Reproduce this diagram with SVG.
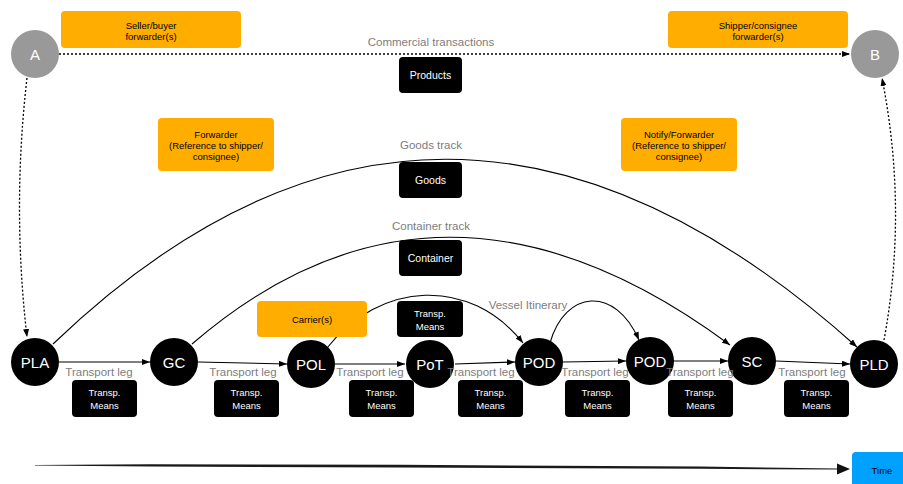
<svg xmlns="http://www.w3.org/2000/svg" width="903" height="484" viewBox="0 0 903 484">
<defs>
<marker id="arr" markerWidth="8" markerHeight="6" refX="8" refY="3" orient="auto" markerUnits="userSpaceOnUse"><path d="M0,0 L8,3 L0,6 z" fill="#000"/></marker>
<style>
text{font-family:"Liberation Sans",Arial,Helvetica,sans-serif}
.org{fill:#FFAE00}
.blk{fill:#000}
.node circle{fill:#000}
.node text{fill:#fff;font-size:15px;text-anchor:middle}
.ext circle{fill:#999}
.ext text{fill:#fff;font-size:15px;text-anchor:middle}
.lbl{fill:#7d7d7d;font-size:11.5px;text-anchor:middle}
.ot{fill:#000;font-size:9.5px;text-anchor:middle}
.bt{fill:#fff;font-size:10.5px;text-anchor:middle}
.tm{fill:#fff;font-size:9.5px;text-anchor:middle}
.ln{fill:none;stroke:#000;stroke-width:1.1}
.dot{fill:none;stroke:#000;stroke-width:1.3;stroke-dasharray:2 2}
</style>
</defs>
<rect width="903" height="484" fill="#fff"/>

<g id="connectors">
<path class="dot" d="M59,54 L850,54" marker-end="url(#arr)"/>
<path class="dot" d="M27,78 Q12,208 27,337" marker-end="url(#arr)"/>
<path class="dot" d="M884,340 Q908,210 882,78" marker-end="url(#arr)"/>
<path class="ln" d="M53,344 Q440,-27 857,347" marker-end="url(#arr)"/>
<path class="ln" d="M192,344 Q440,130 730,345" marker-end="url(#arr)"/>
<path class="ln" d="M327,348 C380,281 470,276 523,343" marker-end="url(#arr)"/>
<path class="ln" d="M550,343 C565,290 615,285 639,340" marker-end="url(#arr)"/>
<path class="ln" d="M59,362 L150,362" marker-end="url(#arr)"/>
<path class="ln" d="M198,362 L287,364" marker-end="url(#arr)"/>
<path class="ln" d="M335,364 L405,364" marker-end="url(#arr)"/>
<path class="ln" d="M455,364 L515,362" marker-end="url(#arr)"/>
<path class="ln" d="M563,362 L626,361" marker-end="url(#arr)"/>
<path class="ln" d="M674,361 L728,361" marker-end="url(#arr)"/>
<path class="ln" d="M776,361 L850,364" marker-end="url(#arr)"/>
</g>

<g id="labels">
<text class="lbl" x="431" y="46">Commercial transactions</text>
<text class="lbl" x="431" y="149">Goods track</text>
<text class="lbl" x="431" y="230">Container track</text>
<text class="lbl" x="528" y="309">Vessel Itinerary</text>
</g>

<g id="nodeA" class="ext"><circle cx="35" cy="54" r="24"/><text x="35" y="59.5">A</text></g>
<g id="nodeB" class="ext"><circle cx="875" cy="54" r="24"/><text x="875" y="59.5">B</text></g>

<g id="seller"><rect class="org" x="61" y="11" width="180" height="37" rx="4"/><text class="ot" x="151" y="28.5">Seller/buyer</text><text class="ot" x="151" y="39.5">forwarder(s)</text></g>
<g id="shipper"><rect class="org" x="668" y="11" width="180" height="37" rx="4"/><text class="ot" x="758" y="28.5">Shipper/consignee</text><text class="ot" x="758" y="39.5">forwarder(s)</text></g>
<g id="products"><rect class="blk" x="399" y="57" width="63" height="36" rx="4"/><text class="bt" x="430.5" y="79">Products</text></g>

<g id="forwarder"><rect class="org" x="158" y="118" width="116" height="53" rx="4"/><text class="ot" x="216" y="137.5">Forwarder</text><text class="ot" x="216" y="148.5">(Reference to shipper/</text><text class="ot" x="216" y="160">consignee)</text></g>
<g id="notify"><rect class="org" x="621" y="118" width="116" height="53" rx="4"/><text class="ot" x="679" y="137.5">Notify/Forwarder</text><text class="ot" x="679" y="148.5">(Reference to shipper/</text><text class="ot" x="679" y="160">consignee)</text></g>
<g id="goods"><rect class="blk" x="399" y="162" width="63" height="36" rx="4"/><text class="bt" x="430.5" y="184">Goods</text></g>
<g id="container"><rect class="blk" x="399" y="240" width="63" height="36" rx="4"/><text class="bt" x="430.5" y="262">Container</text></g>

<g id="carrier"><rect class="org" x="257" y="301" width="110" height="36" rx="4"/><text class="ot" x="312" y="323">Carrier(s)</text></g>
<g id="vesselMeans"><rect class="blk" x="397" y="301" width="66" height="36" rx="4"/><text class="tm" x="430" y="317">Transp.</text><text class="tm" x="430" y="330">Means</text></g>

<g id="PLA" class="node"><circle cx="35" cy="362" r="24"/><text x="35" y="367.5">PLA</text></g>
<g id="GC" class="node"><circle cx="174" cy="362" r="24"/><text x="174" y="367.5">GC</text></g>
<g id="POL" class="node"><circle cx="311" cy="364" r="24"/><text x="311" y="369.5">POL</text></g>
<g id="PoT" class="node"><circle cx="430" cy="364" r="24"/><text x="430" y="369.5">PoT</text></g>
<g id="POD1" class="node"><circle cx="539" cy="362" r="24"/><text x="539" y="367.5">POD</text></g>
<g id="POD2" class="node"><circle cx="650" cy="361" r="24"/><text x="650" y="366.5">POD</text></g>
<g id="SC" class="node"><circle cx="752" cy="361" r="24"/><text x="752" y="366.5">SC</text></g>
<g id="PLD" class="node"><circle cx="874" cy="364" r="24"/><text x="874" y="369.5">PLD</text></g>

<g id="legLabels">
<text class="lbl" x="99" y="376">Transport leg</text>
<text class="lbl" x="243" y="376">Transport leg</text>
<text class="lbl" x="370" y="376">Transport leg</text>
<text class="lbl" x="481" y="376">Transport leg</text>
<text class="lbl" x="595" y="376">Transport leg</text>
<text class="lbl" x="700" y="376">Transport leg</text>
<text class="lbl" x="812" y="376">Transport leg</text>
</g>

<g id="means">
<rect class="blk" x="72" y="380" width="65" height="37" rx="4"/><text class="tm" x="104.5" y="396">Transp.</text><text class="tm" x="104.5" y="409">Means</text>
<rect class="blk" x="214" y="380" width="65" height="37" rx="4"/><text class="tm" x="246.5" y="396">Transp.</text><text class="tm" x="246.5" y="409">Means</text>
<rect class="blk" x="349" y="380" width="65" height="37" rx="4"/><text class="tm" x="381.5" y="396">Transp.</text><text class="tm" x="381.5" y="409">Means</text>
<rect class="blk" x="458" y="380" width="65" height="37" rx="4"/><text class="tm" x="490.5" y="396">Transp.</text><text class="tm" x="490.5" y="409">Means</text>
<rect class="blk" x="565" y="380" width="65" height="37" rx="4"/><text class="tm" x="597.5" y="396">Transp.</text><text class="tm" x="597.5" y="409">Means</text>
<rect class="blk" x="668" y="380" width="65" height="37" rx="4"/><text class="tm" x="700.5" y="396">Transp.</text><text class="tm" x="700.5" y="409">Means</text>
<rect class="blk" x="784" y="380" width="65" height="37" rx="4"/><text class="tm" x="816.5" y="396">Transp.</text><text class="tm" x="816.5" y="409">Means</text>
</g>

<g id="timeline">
<polygon fill="#1a1a1a" points="35,465 150,464.3 400,464.8 700,466.6 838,468.6 838,469.6 700,468.8 400,467.6 150,466.6 35,465.6"/>
<polygon fill="#111" points="837,463.5 850,469 837,474.5"/>
<rect x="852" y="452" width="60" height="40" rx="4" fill="#00A0FF"/>
<text x="882" y="474" style="font-size:9.5px;text-anchor:middle;fill:#000">Time</text>
</g>
</svg>
